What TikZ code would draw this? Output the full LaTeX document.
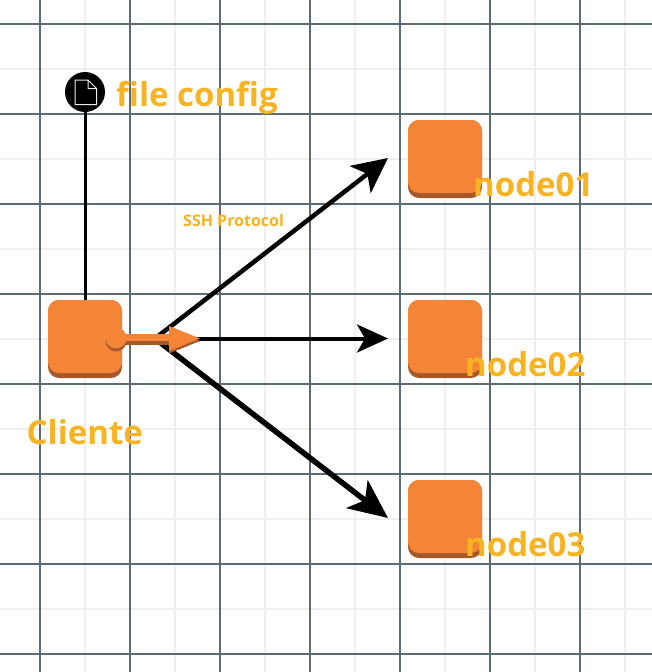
\documentclass[tikz,border=0pt]{standalone}
\usepackage{fontspec}
\usetikzlibrary{arrows.meta}
\setmainfont{Open Sans}
\definecolor{griddark}{HTML}{5B6B78}
\definecolor{gridlight}{HTML}{EFEFEF}
\definecolor{awsorange}{HTML}{F58536}
\definecolor{awsdark}{HTML}{A5592A}
\definecolor{labelgold}{HTML}{F7B322}
\tikzset{
  x=1pt,y=-1pt,
  gridminor/.style={draw=gridlight,line width=1.1pt},
  gridmajor/.style={draw=griddark,line width=1.4pt},
  box/.style={fill=awsorange,rounded corners=11pt},
  boxshade/.style={fill=awsdark,rounded corners=11pt},
  link/.style={draw=black,line width=3pt},
  sshlink/.style={draw=black},
  biglabel/.style={text=labelgold,font=\bfseries\fontsize{33}{36}\selectfont,inner sep=0pt,anchor=base west},
  smalllabel/.style={text=labelgold,font=\bfseries\fontsize{16}{18}\selectfont,inner sep=0pt,anchor=base west},
}
\newcommand{\awsbox}[3]{%
  \fill[boxshade] (#1,#2) rectangle ++(74,78);
  \fill[box] (#1,#2) rectangle ++(74,73);
  \coordinate (#3) at (#1+37,#2+39);
}
\begin{document}
\begin{tikzpicture}
\useasboundingbox (0,0) rectangle (652,672);
\fill[white] (0,0) rectangle (652,672);
% grid
\foreach \gx in {85,175,265,355,445,535,625} \draw[gridminor] (\gx,0) -- (\gx,672);
\foreach \gy in {69,159,249,339,429,519,609} \draw[gridminor] (0,\gy) -- (652,\gy);
\foreach \gx in {40,130,220,310,400,490,580} \draw[gridmajor] (\gx,0) -- (\gx,672);
\foreach \gy in {24,114,204,294,384,474,564,654} \draw[gridmajor] (0,\gy) -- (652,\gy);
% boxes
\awsbox{48}{300}{client}
\awsbox{408}{120}{nodeA}
\awsbox{408}{300}{nodeB}
\awsbox{408}{480}{nodeC}
\coordinate (clienttop) at (85,300);
% file icon
\node[circle,fill=black,minimum size=40pt,inner sep=0pt] (file) at (85,92) {};
\draw[draw=white!92!black,line width=1pt,line join=miter]
  (75,80) -- (88,80) -- (96.5,88.5) -- (96.5,104.5) -- (75,104.5) -- cycle
  (88,80) -- (88,88.5) -- (96.5,88.5);
\draw[link] (file) -- (clienttop);
% ssh arrows
\coordinate (hub) at (155,338.5);
\coordinate (tipA) at (388,158);
\coordinate (tipB) at (388,338.5);
\coordinate (tipC) at (388,518);
\draw[sshlink,line width=4.5pt,-{Stealth[length=35pt,width=34pt,inset=9pt]}] (hub) -- (tipA);
\draw[sshlink,line width=4pt,-{Stealth[length=31pt,width=28pt,inset=8pt]}] (hub) -- (tipB);
\draw[sshlink,line width=5.5pt,-{Stealth[length=39pt,width=35pt,inset=10pt]}] (hub) -- (tipC);
% orange block arrow
\fill[awsdark] (116,341) circle (10.5);
\fill[awsdark] (120,336) rectangle (171,344.5);
\fill[awsdark] (169,329) -- (200,341) -- (169,353.5) -- cycle;
\fill[awsorange] (116,338) circle (10.5);
\fill[awsorange] (120,334) rectangle (171,341);
\fill[awsorange] (169,326) -- (200,338.5) -- (169,351) -- cycle;
% labels
\node[biglabel] (lfile) at (116,106) {file config};
\node[smalllabel] (lssh) at (183,226) {SSH Protocol};
\node[biglabel] (lclient) at (26.5,444) {Cliente};
\node[biglabel] (lnodeA) at (473,196) {node01};
\node[biglabel] (lnodeB) at (465,376) {node02};
\node[biglabel] (lnodeC) at (465,556) {node03};
\end{tikzpicture}
\end{document}
